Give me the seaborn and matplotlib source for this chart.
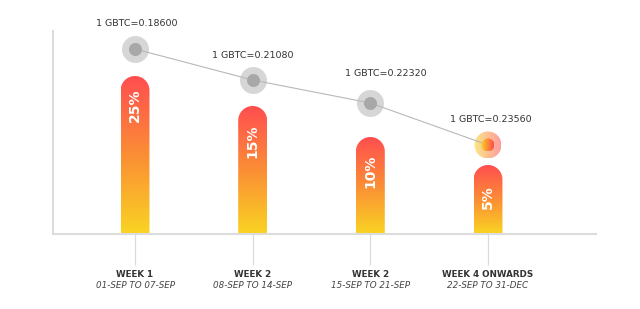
import numpy as np
import matplotlib
matplotlib.use("Agg")
import matplotlib.pyplot as plt
from matplotlib.colors import LinearSegmentedColormap
from matplotlib.path import Path
from matplotlib.patches import PathPatch, Ellipse
import seaborn as sns

# ---- data ----
weeks = ["WEEK 1", "WEEK 2", "WEEK 2", "WEEK 4 ONWARDS"]
date_ranges = ["01-SEP TO 07-SEP", "08-SEP TO 14-SEP", "15-SEP TO 21-SEP", "22-SEP TO 31-DEC"]
bonus_pct = [25, 15, 10, 5]
bar_level = [158, 128, 97, 69]          # visual bar heights
gbtc_price = [0.18600, 0.21080, 0.22320, 0.23560]
price_level = [185, 154, 131, 89]       # visual marker heights

# ---- style / layout ----
W, H = 640, 309
fig = plt.figure(figsize=(W / 100, H / 100), dpi=100)
sns.set_style("white")
ax = fig.add_axes([53 / W, 75 / H, 543 / W, 203 / H])

xpos = np.arange(len(weeks))
sns.barplot(x=xpos, y=bar_level, ax=ax, width=0.246, color="#FF4E50",
            native_scale=True)

xlim = (-0.697, 3.918)
ylim = (0, 203)
ax.set_xlim(*xlim)
ax.set_ylim(*ylim)
px_per_x = ax.bbox.width / (xlim[1] - xlim[0])
px_per_y = ax.bbox.height / (ylim[1] - ylim[0])

cmap = LinearSegmentedColormap.from_list("fun", ["#F9D423", "#FB8E35", "#FF4E50"])
grad_v = np.linspace(0, 1, 256).reshape(-1, 1)

for p in list(ax.patches):
    x0, w, h = p.get_x(), p.get_width(), p.get_height()
    p.set_visible(False)
    ry = (w / 2) * px_per_x / px_per_y
    cx = x0 + w / 2
    t = np.linspace(0, np.pi, 40)
    arc = np.column_stack([cx + (w / 2) * np.cos(t), (h - ry) + ry * np.sin(t)])
    verts = np.vstack([[x0, 0], [x0 + w, 0], [x0 + w, h - ry], arc, [x0, h - ry], [x0, 0]])
    codes = [Path.MOVETO] + [Path.LINETO] * (len(verts) - 2) + [Path.CLOSEPOLY]
    clip = PathPatch(Path(verts, codes), transform=ax.transData)
    im = ax.imshow(grad_v, cmap=cmap, origin="lower", aspect="auto",
                   extent=(x0, x0 + w, 0, h), zorder=2)
    im.set_clip_path(clip)

# percentage labels
pct_gap = [13, 19, 18, 20]
for i, (lvl, pct) in enumerate(zip(bar_level, bonus_pct)):
    ax.annotate(f"{pct}%", xy=(i, lvl), xytext=(0, -pct_gap[i] * 0.72), textcoords="offset points",
                rotation=90, ha="center", va="top", color="white",
                fontsize=10, fontweight="bold", zorder=5)

# connecting line
sns.lineplot(x=xpos, y=price_level, ax=ax, color="#b8b8b8", linewidth=0.8, zorder=3)

# gray markers for first points
outer_s, inner_s = 377, 88
ax.scatter(xpos[:3], price_level[:3], s=outer_s, color="#d6d6d6", zorder=2.5, linewidths=0)
ax.scatter(xpos[:3], price_level[:3], s=inner_s, color="#a8a8a8", zorder=4, linewidths=0)

# gradient marker for last point
grad_h = np.linspace(0, 1, 256).reshape(1, -1)
cx, cy = xpos[3], price_level[3]
for diam, alpha, z in [(27, 0.55, 2.5), (13, 1.0, 4)]:
    rx = diam / 2 / px_per_x
    ryy = diam / 2 / px_per_y
    ell = Ellipse((cx, cy), 2 * rx, 2 * ryy, transform=ax.transData)
    im = ax.imshow(grad_h, cmap=cmap, aspect="auto", alpha=alpha,
                   extent=(cx - rx, cx + rx, cy - ryy, cy + ryy), zorder=z)
    im.set_clip_path(ell)

# price labels
label_dx = [2, 0, 15, 3]
label_dy = [26, 24, 30, 26]
for i, (lvl, pr) in enumerate(zip(price_level, gbtc_price)):
    ax.annotate(f"1 GBTC={pr:.5f}", xy=(i, lvl),
                xytext=(label_dx[i] * 0.72, label_dy[i] * 0.72), textcoords="offset points",
                ha="center", va="center", color="#333333", fontsize=6.8, zorder=6)

ax.set_xlim(*xlim)
ax.set_ylim(*ylim)

# axes styling
for s in ["top", "right"]:
    ax.spines[s].set_visible(False)
for s in ["left", "bottom"]:
    ax.spines[s].set_color("#dcdcdc")
    ax.spines[s].set_linewidth(1.5)
ax.set_yticks([])
ax.set_xticks(xpos)
ax.set_xticklabels(weeks, fontweight="bold", color="#333333", fontsize=6.3)
ax.tick_params(axis="x", bottom=True, length=22.3, width=0.9, color="#dcdcdc",
               pad=3.5, direction="out")
ax.set_xlabel("")
ax.set_ylabel("")

for i, d in enumerate(date_ranges):
    ax.annotate(d, xy=(i, 0), xycoords=("data", "axes fraction"),
                xytext=(0, -51 * 0.72), textcoords="offset points",
                ha="center", va="center", fontstyle="italic", color="#444444",
                fontsize=6.3)

fig.savefig("out.png", dpi=100, facecolor="white")
